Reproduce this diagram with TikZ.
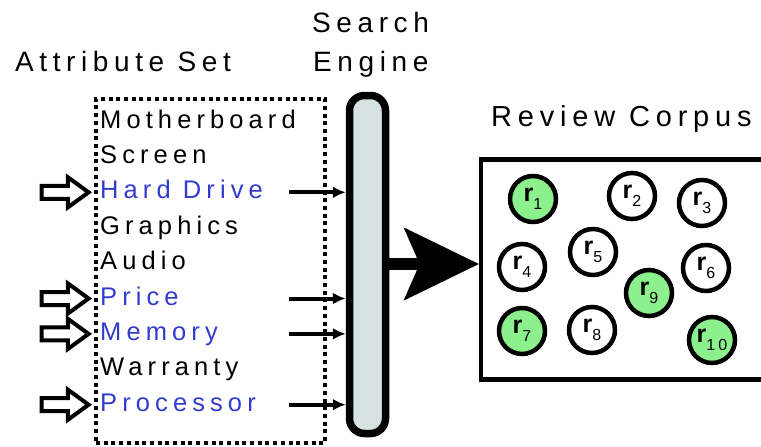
\documentclass[tikz,border=0pt]{standalone}
\usepackage{fontspec}
\setmainfont{Liberation Sans}[LetterSpace=20]
\usetikzlibrary{arrows.meta,shapes.arrows}

\definecolor{attrblue}{RGB}{50,60,205}
\definecolor{hitgreen}{RGB}{140,240,140}
\definecolor{enginefill}{RGB}{214,227,227}

% review label: bold r with a lowered index
\newcommand\revlabel[1]{{\bfseries r}\raisebox{-8pt}{\fontsize{16}{16}\selectfont #1}}

\begin{document}
\begin{tikzpicture}[x=1pt,y=-1pt,
  heading/.style={anchor=base west,inner sep=0pt,font=\fontsize{28}{28}\selectfont},
  attr/.style={anchor=base west,inner sep=0pt,text height=18pt,text depth=5pt,
    font=\fontsize{25.5}{25.5}\selectfont},
  chosen/.style={attr,text=attrblue},
  attrbox/.style={draw,line width=4.5pt,dash pattern=on 4pt off 3.7pt,
    minimum width=229pt,minimum height=344pt,inner sep=0pt},
  enginebar/.style={draw,line width=7.5pt,fill=enginefill,rounded corners=15pt,
    minimum width=36pt,minimum height=338pt,inner sep=0pt},
  corpusbox/.style={draw,line width=4.5pt,minimum width=300pt,minimum height=220pt,
    inner sep=0pt,anchor=north west},
  review/.style={circle,draw,line width=4.5pt,minimum size=46pt,inner sep=0pt,
    font=\fontsize{25}{25}\selectfont},
  hit/.style={review,fill=hitgreen},
  blockarrow/.style={single arrow,draw,line width=4pt,fill=white,inner sep=4.5pt,
    text width=0pt,text height=0pt,text depth=0pt,minimum height=47pt,
    single arrow head extend=8.5pt,single arrow tip angle=72,anchor=tip},
  feed/.style={line width=4pt,-{Latex[length=13pt,width=12pt]}},
  flow/.style={line width=12pt,-{Stealth[length=75pt,width=73pt,inset=16pt,line width=0.01pt]}}
]
\useasboundingbox (0,0) rectangle (761,447);

% headings
\node[heading] (hattr) at (15,71) {Attribute Set};
\node[heading] (hsearch) at (312,32) {Search};
\node[heading] (hengine) at (313,71) {Engine};
\node[heading,font=\fontsize{29}{29}\selectfont] (hcorpus) at (491,126) {Review Corpus};

% attribute set
\node[attrbox] (attrset) at (210.5,271) {};
\node[attr]   (mb)   at (100,128)   {Motherboard};
\node[attr]   (scr)  at (100,163.4) {Screen};
\node[chosen] (hd)   at (100,198.8) {Hard Drive};
\node[attr]   (gfx)  at (100,234.2) {Graphics};
\node[attr]   (aud)  at (100,269.6) {Audio};
\node[chosen] (pr)   at (100,305)   {Price};
\node[chosen] (mem)  at (100,340.4) {Memory};
\node[attr]   (war)  at (100,375.8) {Warranty};
\node[chosen] (proc) at (100,411.2) {Processor};

% selected attributes
\foreach \a in {hd,pr,mem,proc}
  \node[blockarrow] (in-\a) at ([xshift=-8pt]\a.west) {};

% search engine
\node[enginebar] (engine) at (367.5,264.5) {};
\coordinate (feedx) at (289,0);
\foreach \a in {hd,pr,mem,proc}
  \draw[feed] (\a.center -| feedx) -- (\a.center -| engine.west);

% review corpus
\node[corpusbox] (corpus) at (478.7,157) {};
\coordinate (flowy) at (0,264);
\draw[flow] (engine.east |- flowy) -- (corpus.west |- flowy);

\node[hit]    (r1)  at (533,199) {\revlabel{1}};
\node[review] (r2)  at (632,196) {\revlabel{2}};
\node[review] (r3)  at (702,203) {\revlabel{3}};
\node[review] (r4)  at (522,267) {\revlabel{4}};
\node[review] (r5)  at (593,252) {\revlabel{5}};
\node[review] (r6)  at (706,268) {\revlabel{6}};
\node[hit]    (r9)  at (649,293) {\revlabel{9}};
\node[hit]    (r7)  at (522,331) {\revlabel{7}};
\node[review] (r8)  at (592,330) {\revlabel{8}};
\node[hit]    (r10) at (712,340) {\revlabel{10}};
\end{tikzpicture}
\end{document}
